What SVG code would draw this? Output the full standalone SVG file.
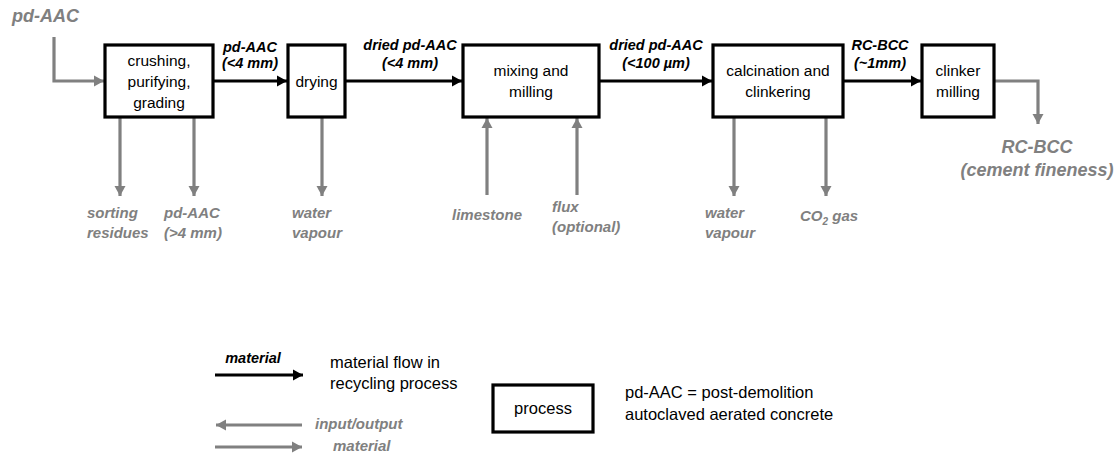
<svg xmlns="http://www.w3.org/2000/svg" width="1120" height="455" viewBox="0 0 1120 455">
  <style>
    .box { fill: #ffffff; stroke: #000000; stroke-width: 3.2; }
    .flow { fill: none; stroke: #000000; stroke-width: 3; }
    .io { fill: none; stroke: #808080; stroke-width: 3.2; }
    .t { font-family: "Liberation Sans", Arial, sans-serif; fill: #000000; }
    .boxt { font-size: 15.5px; text-anchor: middle; }
    .lbl { font-size: 14.5px; font-weight: bold; font-style: italic; text-anchor: middle; }
    .gio { font-family: "Liberation Sans", Arial, sans-serif; font-size: 15px; font-weight: bold; font-style: italic; fill: #808080; }
    .gbig { font-family: "Liberation Sans", Arial, sans-serif; font-size: 18px; font-weight: bold; font-style: italic; fill: #808080; }
    .leg { font-size: 16.5px; }
  </style>
  <defs>
    <marker id="ah-black" markerUnits="userSpaceOnUse" markerWidth="11" markerHeight="12" refX="10" refY="6" orient="auto">
      <path d="M0,0.5 L10,6 L0,11.5 z" fill="#000000"/>
    </marker>
    <marker id="ah-grey" markerUnits="userSpaceOnUse" markerWidth="11" markerHeight="12" refX="10" refY="6" orient="auto">
      <path d="M0,0.5 L10,6 L0,11.5 z" fill="#808080"/>
    </marker>
  </defs>

  <!-- connectors -->
  <g id="connectors">
    <!-- main material flow -->
    <line class="flow" x1="213" y1="81" x2="287" y2="81" marker-end="url(#ah-black)"/>
    <line class="flow" x1="345" y1="81" x2="462" y2="81" marker-end="url(#ah-black)"/>
    <line class="flow" x1="599" y1="81" x2="712" y2="81" marker-end="url(#ah-black)"/>
    <line class="flow" x1="843" y1="81" x2="921" y2="81" marker-end="url(#ah-black)"/>
    <!-- inputs / outputs -->
    <polyline class="io" points="54,37 54,81 104,81" marker-end="url(#ah-grey)"/>
    <line class="io" x1="120" y1="118" x2="120" y2="196" marker-end="url(#ah-grey)"/>
    <line class="io" x1="194" y1="118" x2="194" y2="196" marker-end="url(#ah-grey)"/>
    <line class="io" x1="322" y1="118" x2="322" y2="196" marker-end="url(#ah-grey)"/>
    <line class="io" x1="487" y1="195" x2="487" y2="118" marker-end="url(#ah-grey)"/>
    <line class="io" x1="577" y1="195" x2="577" y2="118" marker-end="url(#ah-grey)"/>
    <line class="io" x1="734" y1="118" x2="734" y2="196" marker-end="url(#ah-grey)"/>
    <line class="io" x1="826" y1="118" x2="826" y2="196" marker-end="url(#ah-grey)"/>
    <polyline class="io" points="995,81 1038,81 1038,124" marker-end="url(#ah-grey)"/>

    <!-- flow labels -->
    <text class="t lbl" x="250" y="52">pd-AAC</text>
    <text class="t lbl" x="250" y="68">(&lt;4 mm)</text>
    <text class="t lbl" x="410" y="50">dried pd-AAC</text>
    <text class="t lbl" x="410" y="68">(&lt;4 mm)</text>
    <text class="t lbl" x="656" y="50">dried pd-AAC</text>
    <text class="t lbl" x="656" y="68">(&lt;100 µm)</text>
    <text class="t lbl" x="880" y="50">RC-BCC</text>
    <text class="t lbl" x="880" y="68">(~1mm)</text>

    <!-- input / output labels -->
    <text class="gbig" x="12" y="22">pd-AAC</text>
    <text class="gio" x="87" y="218">sorting</text>
    <text class="gio" x="87" y="238">residues</text>
    <text class="gio" x="164" y="218">pd-AAC</text>
    <text class="gio" x="164" y="238">(&gt;4 mm)</text>
    <text class="gio" x="292" y="218">water</text>
    <text class="gio" x="292" y="238">vapour</text>
    <text class="gio" x="452" y="220">limestone</text>
    <text class="gio" x="552" y="212">flux</text>
    <text class="gio" x="552" y="232">(optional)</text>
    <text class="gio" x="705" y="218">water</text>
    <text class="gio" x="705" y="238">vapour</text>
    <text class="gio" x="800" y="221">CO<tspan font-size="10" dy="4">2</tspan><tspan dy="-4"> gas</tspan></text>
    <text class="gbig" x="1037" y="153" text-anchor="middle">RC-BCC</text>
    <text class="gbig" x="1037" y="176" text-anchor="middle">(cement fineness)</text>
  </g>

  <!-- process nodes -->
  <g id="node-crushing">
    <rect class="box" x="105" y="45" width="108" height="72"/>
    <text class="t boxt" x="159" y="66" font-size="14.5">crushing,</text>
    <text class="t boxt" x="159" y="87" font-size="14.5">purifying,</text>
    <text class="t boxt" x="159" y="108" font-size="14.5">grading</text>
  </g>
  <g id="node-drying">
    <rect class="box" x="288" y="45" width="57" height="72"/>
    <text class="t boxt" x="316.5" y="87">drying</text>
  </g>
  <g id="node-mixing">
    <rect class="box" x="463" y="45" width="136" height="72"/>
    <text class="t boxt" x="531" y="76">mixing and</text>
    <text class="t boxt" x="531" y="97">milling</text>
  </g>
  <g id="node-calcination">
    <rect class="box" x="713" y="45" width="130" height="72"/>
    <text class="t boxt" x="778" y="76">calcination and</text>
    <text class="t boxt" x="778" y="97">clinkering</text>
  </g>
  <g id="node-clinker">
    <rect class="box" x="922" y="45" width="72" height="72"/>
    <text class="t boxt" x="958" y="76">clinker</text>
    <text class="t boxt" x="958" y="97">milling</text>
  </g>

  <!-- legend -->
  <g id="legend">
    <text class="t lbl" x="253" y="363">material</text>
    <line class="flow" x1="215" y1="375" x2="303" y2="375" marker-end="url(#ah-black)"/>
    <text class="t leg" x="330" y="368">material flow in</text>
    <text class="t leg" x="330" y="389">recycling process</text>
    <line class="io" x1="302" y1="425" x2="216" y2="425" marker-end="url(#ah-grey)"/>
    <line class="io" x1="215" y1="447" x2="302" y2="447" marker-end="url(#ah-grey)"/>
    <text class="gio" x="315" y="429">input/output</text>
    <text class="gio" x="333" y="451">material</text>
    <rect class="box" x="493" y="385" width="100" height="47"/>
    <text class="t leg" x="543" y="414" text-anchor="middle">process</text>
    <text class="t leg" x="625" y="398">pd-AAC = post-demolition</text>
    <text class="t leg" x="625" y="420">autoclaved aerated concrete</text>
  </g>
</svg>
